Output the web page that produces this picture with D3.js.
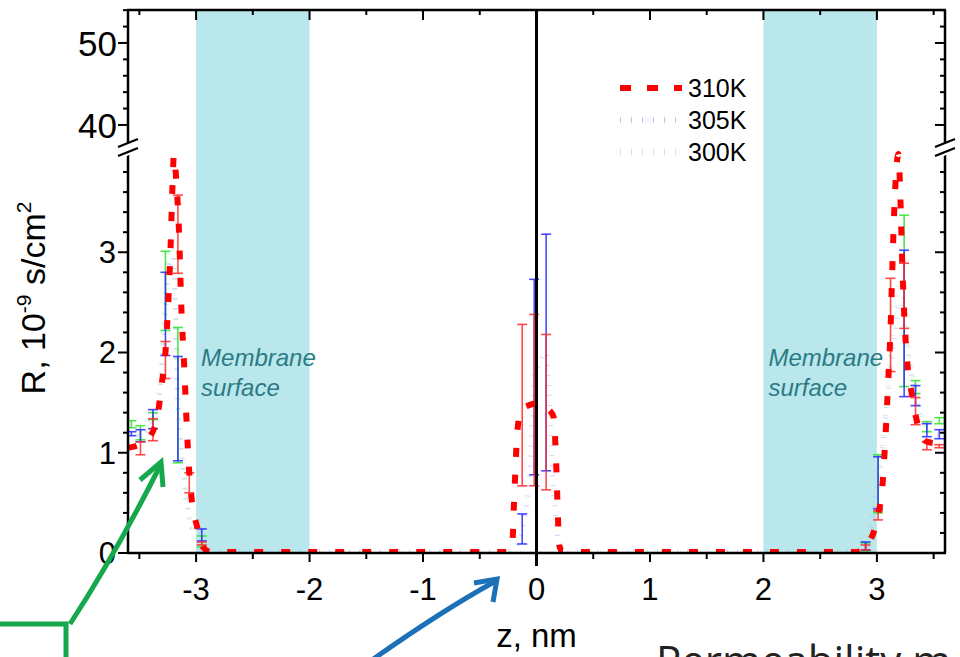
<!DOCTYPE html>
<html>
<head>
<meta charset="utf-8">
<script src="https://cdn.jsdelivr.net/npm/d3@7"></script>
<style>
  body { margin: 0; background: #fff; }
  svg { display: block; font-family: "Liberation Sans", Arial, sans-serif; }
</style>
</head>
<body>
<svg id="graph" width="960" height="657"></svg>
<script>
// values (z in nm, R in 1e-9 s/cm2)
var red310 = [
  [-3.6, 1.05], [-3.55, 1.06], [-3.47, 1.1], [-3.4, 1.17], [-3.33, 1.44], [-3.3, 1.71],
  [-3.27, 2.0], [-3.245, 2.5], [-3.225, 3.04], [-3.21, 3.6], [-3.195, 3.97], [-3.175, 3.72],
  [-3.15, 3.19], [-3.13, 2.45], [-3.105, 1.87], [-3.085, 1.34], [-3.06, 0.8], [-3.035, 0.5],
  [-2.995, 0.28], [-2.94, 0.06], [-2.88, 0.015], [-2.8, 0.01], [-2.0, 0.01], [-1.0, 0.01],
  [-0.25, 0.01], [-0.215, 0.05], [-0.2, 0.45], [-0.185, 0.85], [-0.17, 1.2], [-0.13, 1.44],
  [-0.05, 1.48], [0.02, 1.5], [0.1, 1.44], [0.15, 1.36], [0.17, 1.0], [0.185, 0.5],
  [0.2, 0.08], [0.23, 0.01], [1.0, 0.01], [2.0, 0.01], [2.8, 0.01], [2.885, 0.03],
  [2.935, 0.11], [3.01, 0.38], [3.046, 0.64], [3.076, 1.17], [3.099, 1.7], [3.12, 2.23],
  [3.134, 2.77], [3.149, 3.3], [3.165, 3.72], [3.19, 3.98], [3.205, 3.6], [3.222, 2.94],
  [3.24, 2.4], [3.27, 1.87], [3.304, 1.61], [3.345, 1.35], [3.44, 1.11], [3.55, 1.09], [3.6, 1.08]
];
var blue305 = [
  [-3.6, 1.2], [-3.49, 1.17], [-3.38, 1.33], [-3.32, 1.6], [-3.27, 2.38], [-3.23, 2.9],
  [-3.2, 2.95], [-3.18, 2.3], [-3.16, 1.44], [-3.12, 0.9], [-3.08, 0.5], [-3.04, 0.25],
  [-2.95, 0.18], [-2.9, 0.05], [-2.8, 0.01], [-0.3, 0.01], [-0.2, 0.05], [-0.126, 0.24],
  [-0.06, 0.8], [-0.02, 1.75], [0.03, 1.9], [0.085, 2.0], [0.15, 0.6], [0.2, 0.1],
  [0.3, 0.01], [2.8, 0.01], [2.9, 0.07], [3.01, 0.7], [3.1, 1.6], [3.15, 2.1], [3.2, 2.5],
  [3.24, 2.29], [3.3, 1.8], [3.34, 1.57], [3.44, 1.22], [3.55, 1.18], [3.6, 1.18]
];
var green300 = [
  [-3.6, 1.28], [-3.49, 1.2], [-3.38, 1.37], [-3.32, 1.7], [-3.27, 2.62], [-3.23, 3.05],
  [-3.2, 3.0], [-3.18, 2.4], [-3.16, 1.57], [-3.12, 1.0], [-3.08, 0.55], [-3.04, 0.25],
  [-2.95, 0.11], [-2.9, 0.04], [-2.8, 0.0], [2.8, 0.0], [2.9, 0.06], [3.01, 0.69],
  [3.1, 1.7], [3.16, 2.4], [3.2, 2.7], [3.24, 2.52], [3.3, 1.9], [3.34, 1.65],
  [3.44, 1.26], [3.55, 1.32], [3.6, 1.32]
];

// error bars: [z, low, high]
var redErr = [
  [-3.49, 0.98, 1.11], [-3.38, 1.12, 1.34], [-3.27, 1.74, 2.11], [-3.16, 2.79, 3.57],
  [-3.06, 0.6, 0.8], [-2.95, 0.08, 0.11], [-0.126, 0.67, 2.28], [-0.02, 0.67, 2.38],
  [0.085, 0.63, 2.18], [2.9, 0.03, 0.08], [3.01, 0.33, 0.42], [3.12, 1.81, 2.74],
  [3.24, 2.24, 2.89], [3.34, 1.28, 1.55], [3.44, 1.03, 1.11], [3.55, 1.05, 1.08]
];
var blueErr = [
  [-3.57, 1.17, 1.21], [-3.49, 1.11, 1.23], [-3.38, 1.24, 1.43], [-3.27, 1.97, 2.8],
  [-3.16, 0.92, 1.96], [-2.95, 0.12, 0.24], [-0.126, 0.09, 0.39], [-0.02, 0.78, 2.73],
  [0.085, 0.82, 3.18], [2.9, 0.03, 0.11], [3.01, 0.44, 0.96], [3.24, 1.56, 3.02],
  [3.34, 1.47, 1.67], [3.44, 1.16, 1.29], [3.55, 1.14, 1.23]
];
var greenErr = [
  [-3.57, 1.25, 1.32], [-3.49, 1.13, 1.27], [-3.38, 1.33, 1.4], [-3.27, 2.22, 3.01],
  [-3.16, 0.9, 2.25], [-2.95, 0.06, 0.17], [2.9, 0.02, 0.1], [3.01, 0.4, 0.98],
  [3.24, 1.66, 3.37], [3.34, 1.59, 1.72], [3.44, 1.21, 1.31], [3.55, 1.29, 1.35]
];

var membraneBands = [[-3, -2], [2, 3]];
var xTicks = [-3, -2, -1, 0, 1, 2, 3];
var yLowTicks = [0, 1, 2, 3];
var yHighTicks = [40, 50];
var legendNames = ['310K', '305K', '300K'];

graph = {
  LEFT: 128, RIGHT: 945, TOP: 10, BOTTOM: 553,
  BREAK_TOP: 143, BREAK_BOTTOM: 153,

  init: function () {
    var svg = d3.select('#graph');
    graph.x = d3.scaleLinear().domain([-3.6, 3.6]).range([graph.LEFT, graph.RIGHT]);
    graph.yLow = d3.scaleLinear().domain([0, 3.99]).range([graph.BOTTOM, graph.BREAK_BOTTOM]);
    graph.yHigh = d3.scaleLinear().domain([37.8, 54.02]).range([graph.BREAK_TOP, graph.TOP]);

    svg.append('defs').append('clipPath').attr('id', 'plotclip')
      .append('rect')
      .attr('x', graph.LEFT).attr('y', graph.TOP)
      .attr('width', graph.RIGHT - graph.LEFT).attr('height', graph.BOTTOM - graph.TOP);

    graph.drawBands(svg);
    graph.drawData(svg);
    graph.drawAxes(svg);
    graph.drawLegend(svg);
    graph.drawNotes(svg);
  },

  drawBands: function (svg) {
    svg.append('g').selectAll('rect').data(membraneBands).enter().append('rect')
      .attr('x', function (d) { return graph.x(d[0]); })
      .attr('width', function (d) { return graph.x(d[1]) - graph.x(d[0]); })
      .attr('y', graph.TOP)
      .attr('height', graph.BOTTOM - graph.TOP)
      .attr('fill', '#b9e7eb');

    var lbl = svg.append('g').attr('fill', '#2a7b83')
      .attr('font-style', 'italic').attr('font-size', 24);
    membraneBands.forEach(function (b) {
      var x0 = graph.x(b[0]) + 5;
      lbl.append('text').attr('x', x0).attr('y', 366).text('Membrane');
      lbl.append('text').attr('x', x0).attr('y', 396).text('surface');
    });
  },

  drawData: function (svg) {
    var g = svg.append('g').attr('clip-path', 'url(#plotclip)');

    var lineGen = d3.line()
      .x(function (d) { return graph.x(d[0]); })
      .y(function (d) { return graph.yLow(d[1]); })
      .curve(d3.curveMonotoneX);

    g.append('path').attr('d', lineGen(blue305))
      .attr('fill', 'none').attr('stroke', '#b4b4ff').attr('stroke-opacity', 0.6)
      .attr('stroke-width', 5).attr('stroke-dasharray', '1 9');
    g.append('path').attr('d', lineGen(green300))
      .attr('fill', 'none').attr('stroke', '#b4f0b4').attr('stroke-opacity', 0.6)
      .attr('stroke-width', 5).attr('stroke-dasharray', '1 9');

    // error bars
    [[greenErr, '#2fe02f'], [blueErr, '#2828ff'], [redErr, '#ff2a2a']].forEach(function (s) {
      var eg = g.append('g').attr('stroke', s[1]).attr('stroke-width', 1.6).attr('stroke-opacity', 0.85);
      s[0].forEach(function (e) {
        var cx = graph.x(e[0]), y1 = graph.yLow(e[1]), y2 = graph.yLow(e[2]);
        eg.append('line').attr('x1', cx).attr('x2', cx).attr('y1', y1).attr('y2', y2);
        eg.append('line').attr('x1', cx - 5).attr('x2', cx + 5).attr('y1', y1).attr('y2', y1);
        eg.append('line').attr('x1', cx - 5).attr('x2', cx + 5).attr('y1', y2).attr('y2', y2);
      });
    });

    g.append('path').attr('d', lineGen(red310))
      .attr('fill', 'none').attr('stroke', '#ff0000')
      .attr('stroke-width', 6).attr('stroke-dasharray', '9 18');
  },

  drawAxes: function (svg) {
    var ax = svg.append('g').attr('stroke', '#000').attr('fill', 'none');
    var x = graph.x, yL = graph.yLow, yH = graph.yHigh;

    // frame
    ax.append('line').attr('x1', graph.LEFT - 1).attr('x2', graph.RIGHT + 1)
      .attr('y1', graph.TOP).attr('y2', graph.TOP).attr('stroke-width', 2.5);
    ax.append('line').attr('x1', graph.LEFT - 1).attr('x2', graph.RIGHT + 1)
      .attr('y1', graph.BOTTOM).attr('y2', graph.BOTTOM).attr('stroke-width', 2.5);
    [graph.LEFT, graph.RIGHT].forEach(function (xx) {
      ax.append('line').attr('x1', xx).attr('x2', xx)
        .attr('y1', graph.TOP).attr('y2', graph.BREAK_TOP).attr('stroke-width', 2.5);
      ax.append('line').attr('x1', xx).attr('x2', xx)
        .attr('y1', graph.BREAK_BOTTOM - 1).attr('y2', graph.BOTTOM).attr('stroke-width', 2.5);
    });

    // centre line z = 0
    ax.append('line').attr('x1', x(0)).attr('x2', x(0))
      .attr('y1', graph.TOP).attr('y2', graph.BOTTOM + 13).attr('stroke-width', 3);

    // x ticks (bottom outward, top inward)
    var xt = d3.range(-3.5, 3.51, 0.5);
    xt.forEach(function (v) {
      var major = Math.abs(v - Math.round(v)) < 1e-6;
      ax.append('line').attr('x1', x(v)).attr('x2', x(v))
        .attr('y1', graph.BOTTOM).attr('y2', graph.BOTTOM + (major ? 9 : 6)).attr('stroke-width', 2);
      ax.append('line').attr('x1', x(v)).attr('x2', x(v))
        .attr('y1', graph.TOP).attr('y2', graph.TOP + (major ? 10 : 5)).attr('stroke-width', 2);
    });

    // y ticks: left outward, right inward
    var lowMinor = d3.range(0, 3.81, 0.2);
    var highMinor = d3.range(40, 54.01, 2);
    function yTick(yy, major) {
      var len = major ? 10 : 5;
      ax.append('line').attr('x1', graph.LEFT - len).attr('x2', graph.LEFT)
        .attr('y1', yy).attr('y2', yy).attr('stroke-width', 2);
      ax.append('line').attr('x1', graph.RIGHT - len).attr('x2', graph.RIGHT)
        .attr('y1', yy).attr('y2', yy).attr('stroke-width', 2);
    }
    lowMinor.forEach(function (v) { yTick(yL(v), Math.abs(v - Math.round(v)) < 1e-6); });
    highMinor.forEach(function (v) { yTick(yH(v), v % 10 === 0); });

    // axis break marks
    [graph.LEFT, graph.RIGHT].forEach(function (xx) {
      svg.append('path')
        .attr('d', 'M' + (xx - 10) + ',' + 151 + 'L' + (xx + 10) + ',' + 142 +
                   'L' + (xx + 10) + ',' + 151 + 'L' + (xx - 10) + ',' + 160 + 'Z')
        .attr('fill', '#fff');
      svg.append('line').attr('x1', xx - 10).attr('y1', 147).attr('x2', xx + 10).attr('y2', 139)
        .attr('stroke', '#000').attr('stroke-width', 2.2);
      svg.append('line').attr('x1', xx - 10).attr('y1', 156).attr('x2', xx + 10).attr('y2', 148)
        .attr('stroke', '#000').attr('stroke-width', 2.2);
    });

    // tick labels
    var tl = svg.append('g').attr('fill', '#000');
    tl.selectAll('.xl').data(xTicks).enter().append('text')
      .attr('x', function (d) { return x(d); }).attr('y', 600)
      .attr('text-anchor', 'middle').attr('font-size', 31)
      .text(function (d) { return d; });
    tl.selectAll('.yl').data(yLowTicks).enter().append('text')
      .attr('x', 116).attr('y', function (d) { return yL(d) + 11; })
      .attr('text-anchor', 'end').attr('font-size', 31)
      .text(function (d) { return d; });
    tl.selectAll('.yh').data(yHighTicks).enter().append('text')
      .attr('x', 117).attr('y', function (d) { return yH(d) + 13; })
      .attr('text-anchor', 'end').attr('font-size', 35)
      .text(function (d) { return d; });

    // axis titles
    tl.append('text').attr('x', x(0)).attr('y', 647).attr('text-anchor', 'middle')
      .attr('font-size', 33).text('z, nm');
    var yt = tl.append('text').attr('transform', 'translate(45,298) rotate(-90)')
      .attr('text-anchor', 'middle').attr('font-size', 34);
    yt.append('tspan').text('R, 10');
    yt.append('tspan').attr('font-size', 21).attr('dy', -14).text('-9');
    yt.append('tspan').attr('dy', 14).text(' s/cm');
    yt.append('tspan').attr('font-size', 21).attr('dy', -14).text('2');
  },

  drawLegend: function (svg) {
    var lg = svg.append('g');
    var styles = [
      { stroke: '#ff0000', width: 6, dash: '11 16', op: 1 },
      { stroke: '#b4b4ff', width: 6, dash: '1 10', op: 0.8 },
      { stroke: '#b4f0b4', width: 6, dash: '1 10', op: 0.8 }
    ];
    legendNames.forEach(function (name, i) {
      var yy = 88 + i * 32;
      lg.append('line').attr('x1', 620).attr('x2', 682).attr('y1', yy).attr('y2', yy)
        .attr('stroke', styles[i].stroke).attr('stroke-width', styles[i].width)
        .attr('stroke-opacity', styles[i].op).attr('stroke-dasharray', styles[i].dash);
      lg.append('text').attr('x', 688).attr('y', yy + 9).attr('font-size', 25).text(name);
    });
  },

  drawNotes: function (svg) {
    // slide annotations around the chart
    var gr = '#16a84c', bl = '#1c70b8';
    svg.append('path').attr('d', 'M0,624 L66,624 L66,657')
      .attr('fill', 'none').attr('stroke', gr).attr('stroke-width', 5);
    svg.append('path').attr('d', 'M70,624 Q115,555 160,466')
      .attr('fill', 'none').attr('stroke', gr).attr('stroke-width', 5);
    svg.append('path').attr('d', 'M140,480 L161,462 L163,487')
      .attr('fill', 'none').attr('stroke', gr).attr('stroke-width', 5)
      .attr('stroke-linejoin', 'miter');

    svg.append('path').attr('d', 'M372,660 Q440,612 494,582')
      .attr('fill', 'none').attr('stroke', bl).attr('stroke-width', 5);
    svg.append('path').attr('d', 'M474,583 L497,579 L493,602')
      .attr('fill', 'none').attr('stroke', bl).attr('stroke-width', 5);

    svg.append('text').attr('x', 656).attr('y', 676)
      .attr('font-family', '"Open Sans", sans-serif').attr('font-size', 42)
      .attr('fill', '#222').text('Permeability m');
  }
};

graph.init();
</script>
</body>
</html>
